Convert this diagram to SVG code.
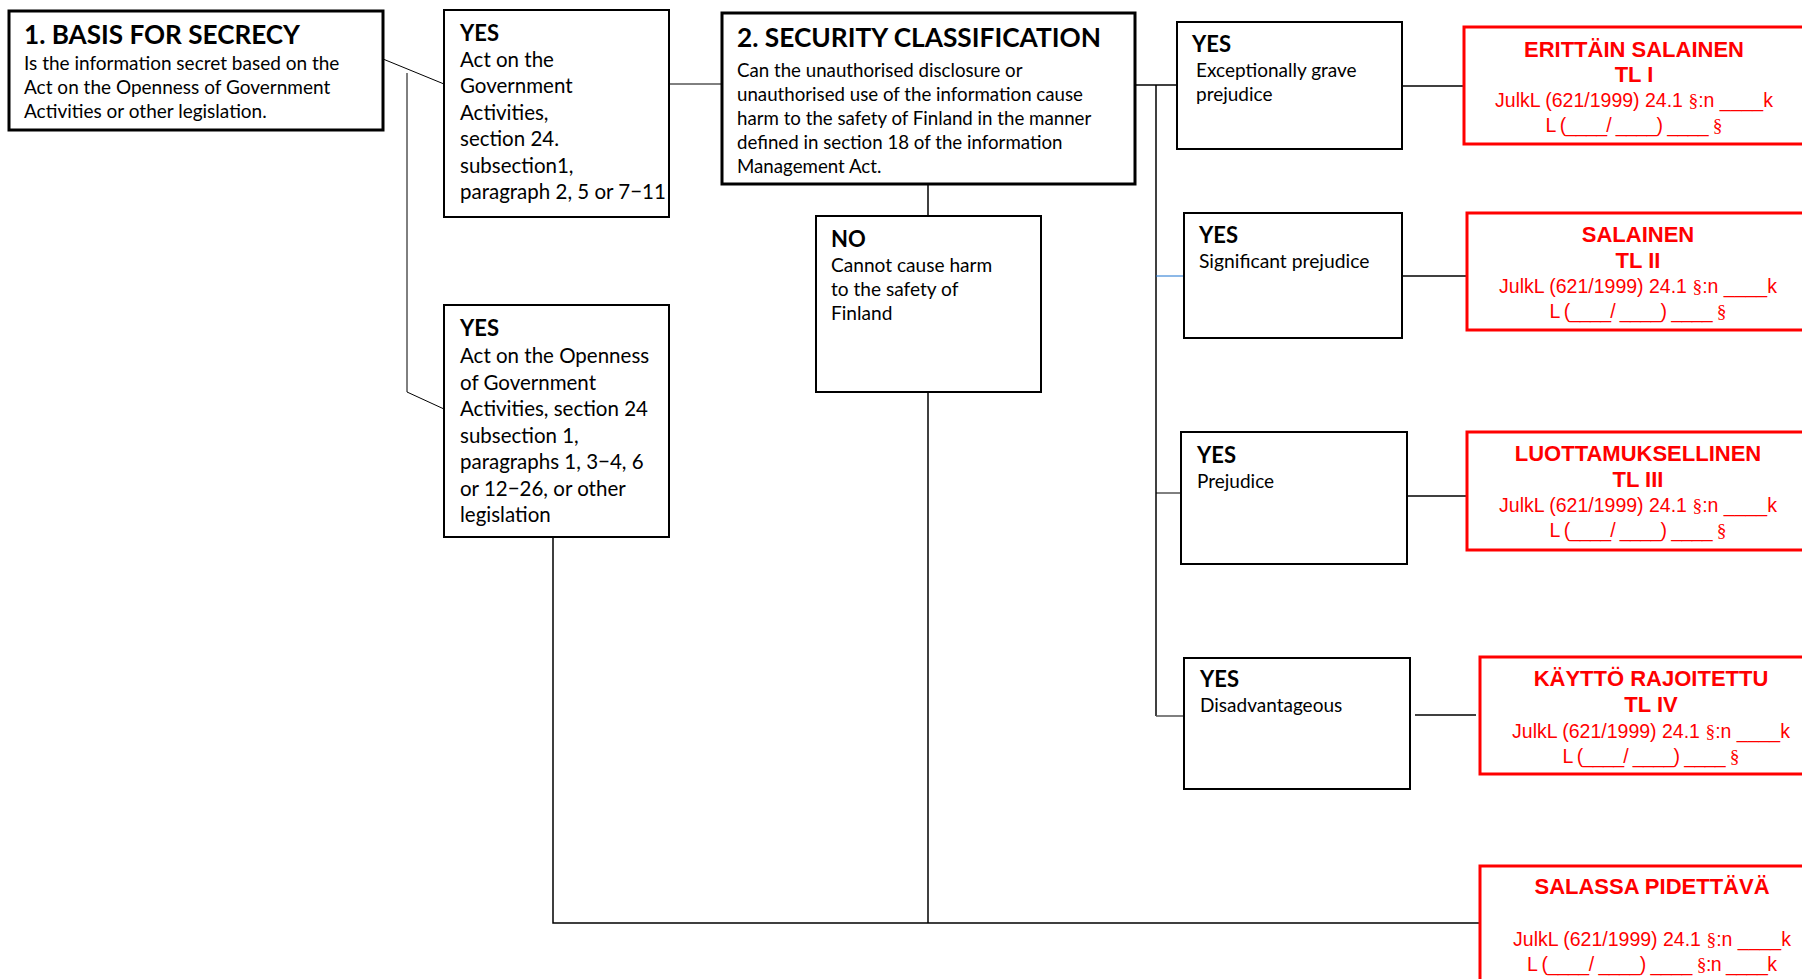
<svg xmlns="http://www.w3.org/2000/svg" width="1802" height="979" viewBox="0 0 1802 979">
<style>
.bx{fill:#fff;stroke:#000;stroke-width:2}
.bxt{fill:#fff;stroke:#000;stroke-width:3}
.rb{fill:#fff;stroke:#f00;stroke-width:3}
.t{font-family:Lato,"Open Sans",sans-serif;fill:#000}
.h{font-weight:bold}
.r{font-family:"Liberation Sans",Arial,sans-serif;fill:#f00;text-anchor:middle;font-size:19.5px}
.rh{font-weight:bold;font-size:22px}
.sec{font-family:"Liberation Serif","Times New Roman",serif}
.ln{stroke:#000;stroke-width:1.5;fill:none}
.thin{stroke:#000;stroke-width:1;fill:none}
</style>
<rect width="1802" height="979" fill="#fff"/>
<g id="connectors">
<line class="thin" x1="383" y1="59" x2="444" y2="84"/>
<polyline class="thin" points="407,73 407,392 444,409"/>
<line class="thin" x1="669" y1="84" x2="722" y2="84"/>
<line class="ln" x1="928" y1="184" x2="928" y2="216"/>
<line class="ln" x1="928" y1="392" x2="928" y2="923"/>
<polyline class="ln" points="553,537 553,923 1480,923"/>
<line class="ln" x1="1135" y1="85" x2="1177" y2="85"/>
<line class="ln" x1="1156" y1="85" x2="1156" y2="716"/>
<line x1="1156" y1="276" x2="1184" y2="276" stroke="#1a73d0" stroke-width="1"/>
<line class="thin" x1="1156" y1="493" x2="1181" y2="493"/>
<line x1="1156" y1="716" x2="1184" y2="716" stroke="#555" stroke-width="1.5"/>
<line class="ln" x1="1402" y1="86" x2="1464" y2="86"/>
<line class="ln" x1="1402" y1="276" x2="1467" y2="276"/>
<line class="ln" x1="1407" y1="496" x2="1467" y2="496"/>
<line class="ln" x1="1415" y1="715" x2="1476" y2="715"/>
</g>
<g id="basis">
<rect class="bxt" x="9" y="11" width="374" height="119"/>
<text class="t h" x="24" y="44" font-size="26" textLength="276" lengthAdjust="spacingAndGlyphs">1. BASIS FOR SECRECY</text>
<text class="t" font-size="19"><tspan x="24" y="70">Is the information secret based on the</tspan><tspan x="24" y="94">Act on the Openness of Government</tspan><tspan x="24" y="118">Activities or other legislation.</tspan></text>
</g>
<g id="yes-a">
<rect class="bx" x="444" y="10" width="225" height="207"/>
<text class="t h" x="460" y="41" font-size="22">YES</text>
<text class="t" font-size="20.5"><tspan x="460" y="67">Act on the</tspan><tspan x="460" y="93.4">Government</tspan><tspan x="460" y="119.8">Activities,</tspan><tspan x="460" y="146.2">section 24.</tspan><tspan x="460" y="172.6">subsection1,</tspan><tspan x="460" y="199">paragraph 2, 5 or 7−11</tspan></text>
</g>
<g id="yes-b">
<rect class="bx" x="444" y="305" width="225" height="232"/>
<text class="t h" x="460" y="336" font-size="22">YES</text>
<text class="t" font-size="20.5"><tspan x="460" y="363">Act on the Openness</tspan><tspan x="460" y="389.5">of Government</tspan><tspan x="460" y="416">Activities, section 24</tspan><tspan x="460" y="442.5">subsection 1,</tspan><tspan x="460" y="469">paragraphs 1, 3−4, 6</tspan><tspan x="460" y="495.5">or 12−26, or other</tspan><tspan x="460" y="522">legislation</tspan></text>
</g>
<g id="classification">
<rect class="bxt" x="722" y="13" width="413" height="171"/>
<text class="t h" x="737" y="47" font-size="26.5" textLength="364" lengthAdjust="spacingAndGlyphs">2. SECURITY CLASSIFICATION</text>
<text class="t" font-size="18.7"><tspan x="737" y="77">Can the unauthorised disclosure or</tspan><tspan x="737" y="101">unauthorised use of the information cause</tspan><tspan x="737" y="125">harm to the safety of Finland in the manner</tspan><tspan x="737" y="149">defined in section 18 of the information</tspan><tspan x="737" y="173">Management Act.</tspan></text>
</g>
<g id="no">
<rect class="bx" x="816" y="216" width="225" height="176"/>
<text class="t h" x="831" y="247" font-size="22">NO</text>
<text class="t" font-size="19.1"><tspan x="831" y="272">Cannot cause harm</tspan><tspan x="831" y="296">to the safety of</tspan><tspan x="831" y="320">Finland</tspan></text>
</g>
<g id="yes-1">
<rect class="bx" x="1177" y="22" width="225" height="127"/>
<text class="t h" x="1192" y="52" font-size="22">YES</text>
<text class="t" font-size="19"><tspan x="1196" y="77">Exceptionally grave</tspan><tspan x="1196" y="101">prejudice</tspan></text>
</g>
<g id="yes-2">
<rect class="bx" x="1184" y="213" width="218" height="125"/>
<text class="t h" x="1199" y="243" font-size="22">YES</text>
<text class="t" x="1199" y="268" font-size="19.3">Significant prejudice</text>
</g>
<g id="yes-3">
<rect class="bx" x="1181" y="432" width="226" height="132"/>
<text class="t h" x="1197" y="463" font-size="22">YES</text>
<text class="t" x="1197" y="488" font-size="19">Prejudice</text>
</g>
<g id="yes-4">
<rect class="bx" x="1184" y="658" width="226" height="131"/>
<text class="t h" x="1200" y="687" font-size="22">YES</text>
<text class="t" x="1200" y="712" font-size="19">Disadvantageous</text>
</g>
<g id="tl1">
<rect class="rb" x="1464" y="27" width="360" height="117"/>
<text class="r rh" x="1634" y="57">ERITTÄIN SALAINEN</text>
<text class="r rh" x="1634" y="82">TL I</text>
<text class="r" x="1634" y="107">JulkL (621/1999) 24.1 <tspan class="sec">§</tspan>:n ____k</text>
<text class="r" x="1634" y="132" textLength="177">L (____/ ____) ____ <tspan class="sec">§</tspan></text>
</g>
<g id="tl2">
<rect class="rb" x="1467" y="213" width="360" height="117"/>
<text class="r rh" x="1638" y="242">SALAINEN</text>
<text class="r rh" x="1638" y="268">TL II</text>
<text class="r" x="1638" y="293">JulkL (621/1999) 24.1 <tspan class="sec">§</tspan>:n ____k</text>
<text class="r" x="1638" y="318" textLength="177">L (____/ ____) ____ <tspan class="sec">§</tspan></text>
</g>
<g id="tl3">
<rect class="rb" x="1467" y="432" width="360" height="118"/>
<text class="r rh" x="1638" y="461">LUOTTAMUKSELLINEN</text>
<text class="r rh" x="1638" y="487">TL III</text>
<text class="r" x="1638" y="512">JulkL (621/1999) 24.1 <tspan class="sec">§</tspan>:n ____k</text>
<text class="r" x="1638" y="537" textLength="177">L (____/ ____) ____ <tspan class="sec">§</tspan></text>
</g>
<g id="tl4">
<rect class="rb" x="1480" y="657" width="360" height="117"/>
<text class="r rh" x="1651" y="686">KÄYTTÖ RAJOITETTU</text>
<text class="r rh" x="1651" y="712">TL IV</text>
<text class="r" x="1651" y="738">JulkL (621/1999) 24.1 <tspan class="sec">§</tspan>:n ____k</text>
<text class="r" x="1651" y="763" textLength="177">L (____/ ____) ____ <tspan class="sec">§</tspan></text>
</g>
<g id="salassa">
<rect class="rb" x="1480" y="866" width="360" height="150"/>
<text class="r rh" x="1652" y="894">SALASSA PIDETTÄVÄ</text>
<text class="r" x="1652" y="946">JulkL (621/1999) 24.1 <tspan class="sec">§</tspan>:n ____k</text>
<text class="r" x="1652" y="971" textLength="250">L (____/ ____) ____ <tspan class="sec">§</tspan>:n ____k</text>
</g>
</svg>
